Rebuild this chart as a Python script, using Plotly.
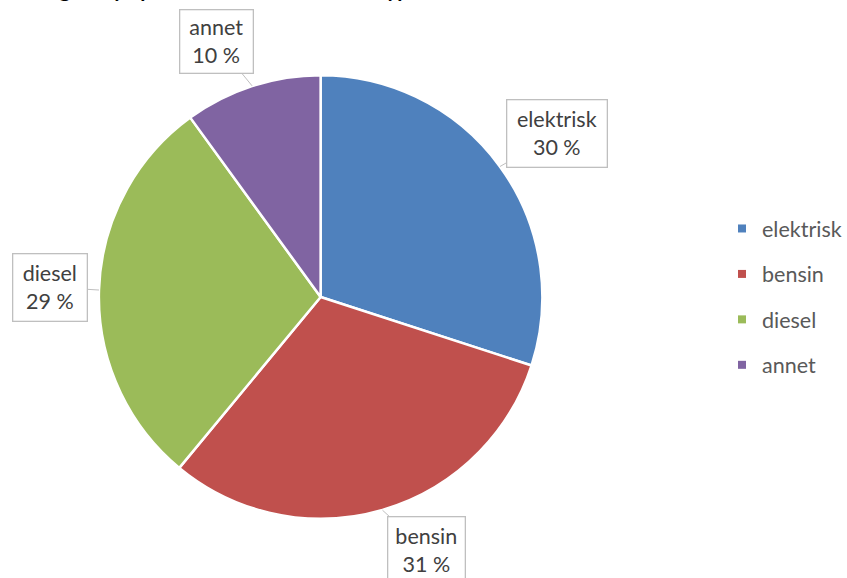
import math
import plotly.graph_objects as go

# ---- data ----
categories = ["elektrisk", "bensin", "diesel", "annet"]
shares = [30, 31, 29, 10]
colors = ["#4F81BD", "#C0504D", "#9BBB59", "#8064A2"]
title_text = "Salg av nye personbiler etter drivstofftype"

# ---- layout settings ----
W, H = 847, 578
cx, cy, r = 321, 297, 222
# callout box centre offsets (px) from the slice-edge tip, and box sizes
label_offsets = [(57, -33), (44, 40), (-49, -3), (-36, -44)]
label_sizes = [(101, 68), (78, 68), (75, 68), (74, 64)]
FONT = "Lato"

fig = go.Figure()
fig.add_trace(go.Pie(
    labels=categories, values=shares, sort=False, direction="clockwise",
    rotation=0, textinfo="none", hoverinfo="label+percent",
    marker=dict(colors=colors, line=dict(color="white", width=2.5)),
    domain=dict(x=[(cx - r) / W, (cx + r) / W], y=[1 - (cy + r) / H, 1 - (cy - r) / H]),
    showlegend=False,
))

# legend via dummy traces
for i, (c, col) in enumerate(zip(categories, colors)):
    fig.add_trace(go.Scatter(
        x=[None], y=[None], mode="markers", name=c, legendgroup=c,
        marker=dict(symbol="square", size=8, color=col), showlegend=True,
    ))

total = sum(shares)
annotations = []
cum = 0
for cat, v, (dx, dy), (bw, bh) in zip(categories, shares, label_offsets, label_sizes):
    theta = 2 * math.pi * (cum + v / 2) / total
    cum += v
    px = cx + r * math.sin(theta)
    py = cy - r * math.cos(theta)
    annotations.append(dict(
        x=px / W, y=1 - py / H, xref="paper", yref="paper",
        ax=dx, ay=dy, axref="pixel", ayref="pixel",
        text=f"{cat}<br>{round(v / total * 100)} %",
        showarrow=True, arrowhead=0, arrowwidth=1, arrowcolor="#BFBFBF",
        standoff=0, startstandoff=0,
        bordercolor="#BFBFBF", borderwidth=1.3, borderpad=0, bgcolor="white",
        width=bw - 2, height=bh - 2, align="center", valign="middle",
        font=dict(family=FONT, size=21.5, color="#404040"),
    ))

annotations.append(dict(
    x=30 / W, y=1 - 3 / H, xref="paper", yref="paper", xanchor="left", yanchor="bottom",
    text=f"<b>{title_text}</b>", showarrow=False,
    font=dict(family=FONT, size=21, color="black"),
))

fig.update_layout(
    width=W, height=H, margin=dict(l=0, r=0, t=0, b=0),
    paper_bgcolor="white", plot_bgcolor="white",
    xaxis=dict(visible=False), yaxis=dict(visible=False),
    annotations=annotations,
    legend=dict(
        x=0.853, y=1 - 297 / H, xanchor="left", yanchor="middle",
        font=dict(family=FONT, size=21.5, color="#595959"),
        traceorder="grouped", tracegroupgap=14.5, itemclick=False,
        bgcolor="rgba(0,0,0,0)",
    ),
)

fig.write_html("out.html")
